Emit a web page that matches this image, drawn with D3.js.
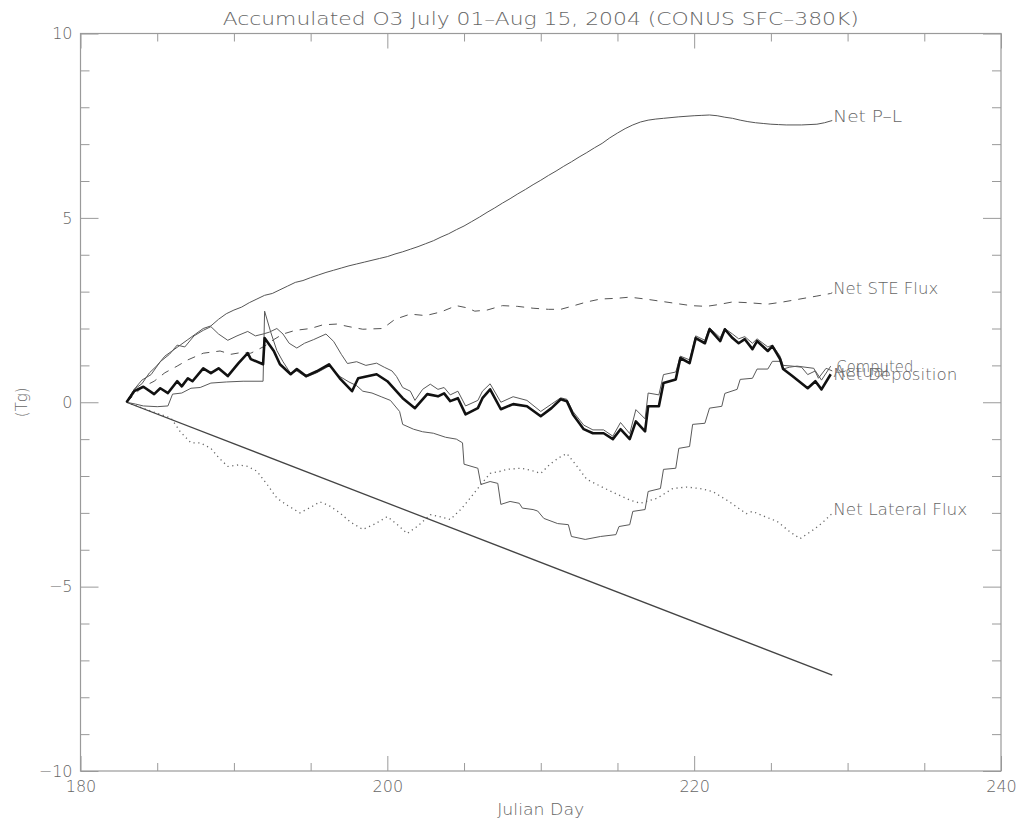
<!DOCTYPE html>
<html><head><meta charset="utf-8">
<script src="https://cdn.jsdelivr.net/npm/d3@7"></script>
<style>
html,body{margin:0;padding:0;background:#fff;}
svg text{font-family:"DejaVu Sans","Liberation Sans",sans-serif;font-weight:200;fill:#666;}
</style></head>
<body><svg id="c" width="1021" height="827"></svg>
<script>
// ---------- data (Julian day, Tg) ----------
const titleText = "Accumulated O3 July 01\u2013Aug 15, 2004 (CONUS SFC\u2013380K)";
const xLabel = "Julian Day";
const yLabel = "(Tg)";
const xMajorTicks = [180, 200, 220, 240];
const yMajorTicks = [-10, -5, 0, 5, 10];
const yTickLabels = ["\u221210", "\u22125", "0", "5", "10"];

const netPL = [[183,0],[183.5,0.35],[184,0.5],[184.5,0.8],[185,1.0],[185.5,1.25],[186,1.4],[186.5,1.55],[187,1.7],[187.5,1.85],[188,2.0],[188.5,2.07],[189,2.25],[189.5,2.4],[190,2.5],[190.5,2.58],[191,2.7],[191.5,2.8],[192,2.9],[192.5,2.95],[193,3.05],[193.5,3.15],[194,3.25],[194.5,3.3],[195,3.38],[195.5,3.45],[196,3.52],[196.5,3.58],[197,3.64],[197.5,3.7],[198,3.75],[198.5,3.8],[199,3.85],[199.5,3.9],[200,3.95],[200.5,4.02],[201,4.08],[201.5,4.15],[202,4.22],[202.5,4.3],[203,4.38],[203.5,4.48],[204,4.57],[204.5,4.68],[205,4.78],[205.5,4.9],[206,5.02],[206.5,5.15],[207,5.27],[207.5,5.4],[208,5.52],[208.5,5.65],[209,5.77],[209.5,5.9],[210,6.02],[210.5,6.15],[211,6.27],[211.5,6.4],[212,6.52],[212.5,6.65],[213,6.77],[213.5,6.9],[214,7.02],[214.5,7.17],[215,7.3],[215.5,7.42],[216,7.52],[216.5,7.6],[217,7.65],[217.5,7.68],[218,7.7],[219,7.74],[220,7.77],[220.5,7.78],[221,7.79],[221.5,7.77],[222,7.73],[222.5,7.7],[223,7.65],[223.5,7.61],[224,7.58],[224.5,7.56],[225,7.54],[225.5,7.53],[226,7.52],[227,7.52],[228,7.54],[228.5,7.58],[229,7.64]];

const netSTE = [[183,0],[183.5,0.2],[184,0.4],[184.8,0.57],[185.5,0.8],[186.3,0.98],[187,1.15],[188,1.33],[189.1,1.39],[189.8,1.3],[190.5,1.35],[191.1,1.33],[192,1.52],[192.6,1.7],[193.2,1.85],[194,1.95],[195,2.0],[195.8,2.1],[196.7,2.12],[197.5,2.05],[198.4,1.98],[199.7,2.0],[200.5,2.25],[201.5,2.39],[202.5,2.35],[203.5,2.45],[204.5,2.62],[205.2,2.56],[205.7,2.47],[206.5,2.5],[207.5,2.62],[208.5,2.6],[209.5,2.55],[210.5,2.52],[211.3,2.52],[212,2.6],[213,2.72],[213.9,2.8],[215,2.82],[215.8,2.85],[216.8,2.8],[217.8,2.74],[218.8,2.68],[219.8,2.62],[220.8,2.6],[221.6,2.65],[222.5,2.72],[223.5,2.7],[224.8,2.66],[225.8,2.72],[226.9,2.8],[228,2.88],[228.9,2.95],[229,2.97]];

const netLateral = [[183,0],[184,-0.15],[185,-0.3],[185.9,-0.43],[186.5,-0.8],[187.2,-1.1],[187.8,-1.1],[188.5,-1.25],[189,-1.5],[189.6,-1.74],[190.3,-1.7],[190.9,-1.74],[191.5,-1.87],[192.2,-2.25],[192.8,-2.6],[193.5,-2.8],[194.3,-3.0],[195,-2.85],[195.6,-2.7],[196.2,-2.8],[196.9,-3.0],[197.6,-3.25],[198.4,-3.45],[199.2,-3.3],[200,-3.1],[200.6,-3.3],[201.3,-3.56],[202,-3.35],[202.8,-3.05],[203.4,-3.1],[204.1,-3.18],[204.8,-2.9],[205.4,-2.6],[206.1,-2.23],[206.7,-1.93],[207.4,-1.87],[207.8,-1.82],[208.7,-1.79],[209.4,-1.85],[210,-1.93],[210.6,-1.68],[211.2,-1.5],[211.7,-1.39],[212.3,-1.7],[213,-2.09],[214,-2.3],[215,-2.5],[215.8,-2.65],[216.5,-2.74],[217.6,-2.6],[218.6,-2.34],[219.5,-2.3],[220.4,-2.34],[221.2,-2.42],[222.3,-2.7],[223.4,-3.02],[223.8,-2.96],[224.6,-3.1],[225.4,-3.23],[226.2,-3.5],[226.9,-3.7],[227.8,-3.45],[228.4,-3.25],[228.9,-3.05],[229,-3.02]];

const straightLine = [[183,0],[229,-7.4]];

const computed = [[183,0],[183.5,0.35],[184,0.6],[184.6,0.75],[185.2,1.1],[185.8,1.3],[186.3,1.55],[186.8,1.5],[187.4,1.8],[188,1.95],[188.5,2.05],[189,1.85],[189.6,1.68],[190.2,1.8],[190.9,1.92],[191.4,1.8],[191.9,1.85],[192.3,1.9],[192.8,2.0],[193.2,1.85],[193.6,1.6],[194.1,1.47],[194.6,1.6],[195.2,1.7],[196,1.85],[196.5,1.65],[197,1.3],[197.4,1.05],[198,1.1],[198.6,1.0],[199.3,1.06],[199.8,0.95],[200.3,0.85],[200.6,0.7],[201,0.4],[201.5,0.3],[201.8,0.05],[202.3,0.35],[202.8,0.49],[203.3,0.35],[203.7,0.4],[204.1,0.2],[204.6,0.3],[205.1,-0.1],[205.9,0.05],[206.2,0.3],[206.7,0.5],[207.4,0.0],[208.2,0.15],[209.1,0.05],[210,-0.25],[210.7,-0.05],[211.3,0.12],[211.7,0.08],[212.1,-0.25],[212.8,-0.62],[213.4,-0.75],[214.1,-0.75],[214.7,-0.92],[215.2,-0.55],[215.8,-0.85],[216.2,-0.2],[216.8,-0.45],[217,0.25],[217.7,0.2],[218,0.75],[218.8,0.82],[219.1,1.25],[219.7,1.15],[220.1,1.8],[220.7,1.68],[221,2.02],[221.7,1.75],[222,2.0],[222.5,1.85],[222.9,1.72],[223.3,1.78],[223.8,1.6],[224.1,1.72],[224.8,1.5],[225.1,1.55],[225.6,1.25],[225.8,1.0],[226.4,0.98],[227,0.95],[227.4,0.75],[227.9,0.85],[228.3,0.6],[228.9,0.98]];

const stepped = [[183,0],[183.6,-0.05],[184.1,-0.1],[185,-0.12],[185.7,-0.1],[186,0.22],[186.6,0.25],[187.2,0.38],[187.8,0.4],[188.5,0.52],[189.5,0.55],[190.6,0.57],[191.9,0.57],[192,2.47],[192.4,1.9],[192.8,1.4],[193.2,1.1],[193.7,0.78],[194.1,0.85],[194.7,0.68],[195.4,0.8],[196.2,0.98],[196.9,0.7],[197.5,0.55],[198,0.45],[198.4,0.3],[199,0.25],[199.6,0.15],[200.2,0.05],[200.8,-0.25],[201,-0.6],[201.7,-0.73],[202.3,-0.8],[203,-0.84],[203.8,-0.95],[204.5,-1.0],[204.9,-1.1],[205,-1.68],[205.9,-1.79],[206.1,-2.23],[206.7,-2.15],[207.2,-2.2],[207.4,-2.77],[208,-2.69],[208.6,-2.74],[208.8,-2.87],[209.5,-2.91],[209.8,-2.95],[210.2,-3.15],[211.1,-3.29],[211.8,-3.32],[212,-3.64],[212.9,-3.72],[213.9,-3.64],[214.9,-3.59],[215.1,-3.37],[215.8,-3.32],[216,-2.96],[216.8,-2.91],[217,-2.42],[217.8,-2.34],[218,-1.82],[218.8,-1.79],[219,-1.25],[219.7,-1.2],[219.9,-0.6],[220.7,-0.57],[221,-0.16],[221.8,-0.11],[222,0.24],[222.8,0.35],[223,0.62],[223.8,0.65],[224.1,0.9],[224.8,0.9],[225.1,1.11],[225.6,1.11],[225.8,0.9],[226.2,0.95],[226.7,0.98],[227.8,0.92],[228.1,0.65],[228.6,0.92],[229,0.85]];

const actual = [[183,0],[183.5,0.3],[184.1,0.42],[184.8,0.22],[185.2,0.38],[185.7,0.25],[186.3,0.57],[186.6,0.43],[187,0.65],[187.3,0.57],[188,0.92],[188.5,0.79],[189,0.92],[189.6,0.71],[190.3,1.06],[190.9,1.33],[191.1,1.17],[191.9,1.03],[192,1.74],[192.6,1.39],[193,1.03],[193.7,0.76],[194.1,0.9],[194.7,0.71],[195.4,0.84],[196.2,1.03],[196.9,0.65],[197.7,0.3],[198.1,0.65],[199.3,0.76],[200,0.57],[201,0.11],[201.8,-0.16],[202.6,0.22],[203.3,0.16],[203.7,0.24],[204.1,0.03],[204.6,0.11],[205.1,-0.33],[205.9,-0.16],[206.2,0.11],[206.7,0.35],[207.4,-0.19],[208.2,-0.05],[209.1,-0.11],[210,-0.38],[210.7,-0.16],[211.3,0.08],[211.7,0.03],[212.1,-0.33],[212.8,-0.73],[213.4,-0.84],[214.1,-0.84],[214.7,-1.0],[215.2,-0.73],[215.8,-1.0],[216.2,-0.52],[216.8,-0.79],[217,-0.11],[217.7,-0.11],[218,0.52],[218.8,0.62],[219.1,1.2],[219.7,1.06],[220.1,1.74],[220.7,1.6],[221,1.98],[221.7,1.66],[222,1.98],[222.5,1.74],[222.9,1.6],[223.3,1.71],[223.8,1.44],[224.1,1.66],[224.8,1.39],[225.1,1.52],[225.6,1.17],[225.8,0.9],[226.4,0.71],[227.4,0.38],[227.9,0.57],[228.3,0.35],[228.9,0.76]];

// end labels: text, day, value
const endLabels = [
  {text:"Net P\u2013L", day:229, value:7.64, len:69},
  {text:"Net STE Flux", day:229, value:2.97, len:105},
  {text:"Computed", day:229.2, value:0.85, len:77},
  {text:"Net Deposition", day:229, value:0.64, len:124},
  {text:"Actual", day:229, value:0.7, len:56},
  {text:"Net Lateral Flux", day:229, value:-3.02, len:134}
];

// ---------- drawing ----------
const svg = d3.select("#c");
const pLeft = 80.5, pRight = 1001, pTop = 33.5, pBottom = 771;
const x = d3.scaleLinear().domain([180, 240]).range([pLeft, pRight]);
const y = d3.scaleLinear().domain([-10, 10]).range([pBottom, pTop]);
const axisColor = "#9a9a9a";

function styleAxis(g){
  g.select(".domain").remove();
  g.selectAll(".tick line").attr("stroke", axisColor).attr("stroke-width", 1);
  g.selectAll(".tick text").attr("fill","#666").style("font-size","16px")
    .style("font-family","DejaVu Sans, sans-serif").style("font-weight","200");
}
const xMinor = d3.range(180, 241, 5).filter(v => !xMajorTicks.includes(v));
const yMinor = d3.range(-10, 11, 1).filter(v => !yMajorTicks.includes(v));

// bottom
svg.append("g").attr("transform",`translate(0,${pBottom})`)
  .call(d3.axisBottom(x).tickValues(xMajorTicks).tickSize(-15).tickPadding(10).tickFormat(d3.format("d")))
  .call(styleAxis);
svg.append("g").attr("transform",`translate(0,${pBottom})`)
  .call(d3.axisBottom(x).tickValues(xMinor).tickSize(-8).tickFormat(""))
  .call(styleAxis);
// top
svg.append("g").attr("transform",`translate(0,${pTop})`)
  .call(d3.axisTop(x).tickValues(xMajorTicks).tickSize(-15).tickFormat(""))
  .call(styleAxis);
svg.append("g").attr("transform",`translate(0,${pTop})`)
  .call(d3.axisTop(x).tickValues(xMinor).tickSize(-8).tickFormat(""))
  .call(styleAxis);
// left
svg.append("g").attr("transform",`translate(${pLeft},0)`)
  .call(d3.axisLeft(y).tickValues(yMajorTicks).tickSize(-18).tickPadding(8)
    .tickFormat((d,i) => yTickLabels[i]))
  .call(styleAxis);
svg.append("g").attr("transform",`translate(${pLeft},0)`)
  .call(d3.axisLeft(y).tickValues(yMinor).tickSize(-9).tickFormat(""))
  .call(styleAxis);
// right
svg.append("g").attr("transform",`translate(${pRight},0)`)
  .call(d3.axisRight(y).tickValues(yMajorTicks).tickSize(-18).tickFormat(""))
  .call(styleAxis);
svg.append("g").attr("transform",`translate(${pRight},0)`)
  .call(d3.axisRight(y).tickValues(yMinor).tickSize(-9).tickFormat(""))
  .call(styleAxis);

// frame
svg.append("rect").attr("x",pLeft).attr("y",pTop).attr("width",pRight-pLeft).attr("height",pBottom-pTop)
  .attr("fill","none").attr("stroke",axisColor).attr("stroke-width",1.2);

// lines
const line = d3.line().x(d => x(d[0])).y(d => y(d[1]));
function drawLine(data, opts){
  svg.append("path").datum(data).attr("d", line).attr("fill","none")
    .attr("stroke", opts.color || "#5a5a5a").attr("stroke-width", opts.width || 1)
    .attr("stroke-dasharray", opts.dash || null)
    .attr("stroke-linejoin","round").attr("stroke-linecap", opts.cap || "butt");
}
drawLine(netPL, {color:"#555"});
drawLine(netSTE, {color:"#555", dash:"8,7"});
drawLine(netLateral, {color:"#666", dash:"1.2,3.6", width:1.3});
drawLine(straightLine, {color:"#444", width:1.3});
drawLine(stepped, {color:"#5a5a5a"});
drawLine(computed, {color:"#5a5a5a"});
drawLine(actual, {color:"#111", width:2.6});

// end labels
svg.append("g").selectAll("text").data(endLabels).join("text")
  .attr("x", d => x(d.day) + 1).attr("y", d => y(d.value) + 1)
  .attr("textLength", d => d.len).attr("lengthAdjust","spacingAndGlyphs")
  .style("font-size","15px").text(d => d.text);

// title and axis titles
svg.append("text").attr("x",(pLeft+pRight)/2).attr("y",25).attr("text-anchor","middle")
  .attr("textLength",636).attr("lengthAdjust","spacingAndGlyphs")
  .style("font-size","17px").text(titleText);
svg.append("text").attr("x",(pLeft+pRight)/2).attr("y",815).attr("text-anchor","middle")
  .attr("textLength",87).attr("lengthAdjust","spacingAndGlyphs")
  .style("font-size","15px").text(xLabel);
svg.append("text").attr("transform",`translate(27,${(pTop+pBottom)/2}) rotate(-90)`)
  .attr("text-anchor","middle").style("font-size","15px").text(yLabel);
</script></body></html>
